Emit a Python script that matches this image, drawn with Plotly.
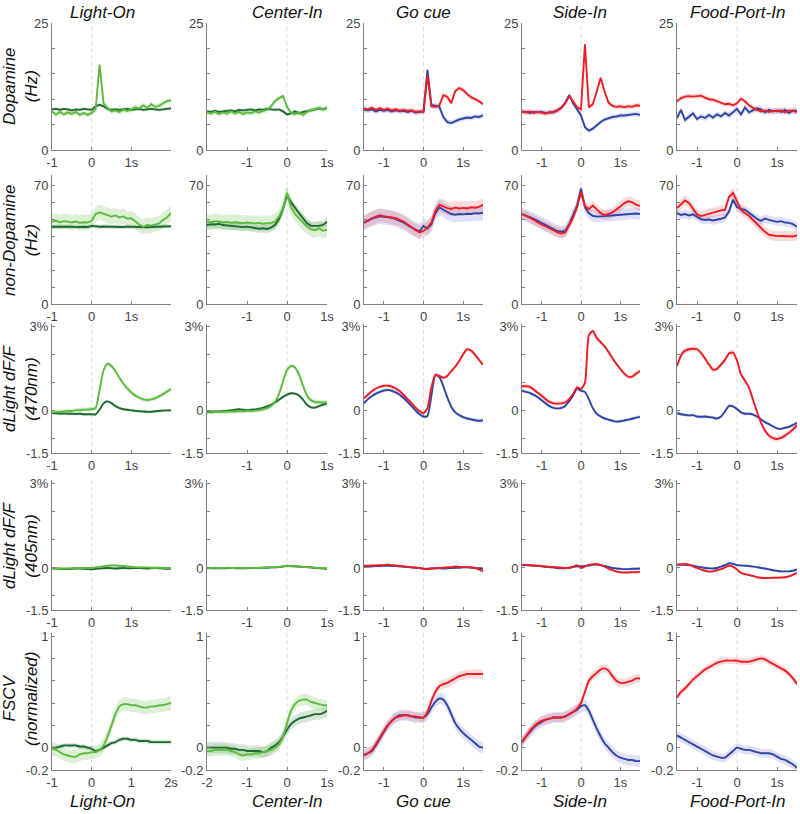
import plotly.graph_objects as go

# ---------------- time grids (s) ----------------
T_LIGHT = [-1.0,-0.9,-0.8,-0.7,-0.6,-0.5,-0.4,-0.3,-0.2,-0.1,0.0,0.1,0.2,0.3,0.4,0.5,0.6,0.7,0.8,0.9,1.0,1.1,1.2,1.3,1.4,1.5,1.6,1.7,1.8,1.9,2.0]
T_CENTER = [-2.0,-1.9,-1.8,-1.7,-1.6,-1.5,-1.4,-1.3,-1.2,-1.1,-1.0,-0.9,-0.8,-0.7,-0.6,-0.5,-0.4,-0.3,-0.2,-0.1,0.0,0.1,0.2,0.3,0.4,0.5,0.6,0.7,0.8,0.9,1.0]
T_SYM = [-1.5,-1.4,-1.3,-1.2,-1.1,-1.0,-0.9,-0.8,-0.7,-0.6,-0.5,-0.4,-0.3,-0.2,-0.1,0.0,0.1,0.2,0.3,0.4,0.5,0.6,0.7,0.8,0.9,1.0,1.1,1.2,1.3,1.4,1.5]

EVENTS = ["Light-On", "Center-In", "Go cue", "Side-In", "Food-Port-In"]
ROW_LABELS = ["Dopamine<br>(Hz)", "non-Dopamine<br>(Hz)", "dLight dF/F<br>(470nm)",
              "dLight dF/F<br>(405nm)", "FSCV<br>(normalized)"]

# ---------------- Row 1: Dopamine firing (Hz) ----------------
da_lo_lg = [7.6,7.0,7.5,7.0,7.4,7.1,7.5,6.9,7.3,6.9,7.3,8.0,16.8,9.2,8.3,7.6,7.8,7.5,7.9,7.7,8.0,8.4,8.2,8.8,8.3,9.0,8.5,8.7,9.2,9.6,9.8]
da_lo_dg = [8.0,8.1,7.9,8.1,8.0,7.8,8.0,7.9,8.1,8.0,7.9,8.6,8.9,8.6,8.1,7.9,8.0,7.9,8.0,8.1,7.9,8.0,8.1,7.9,8.0,8.1,8.0,7.9,8.0,8.1,8.2]
da_ci_lg = [7.4,7.2,7.5,7.1,7.4,7.2,7.6,7.2,7.5,7.1,7.4,7.3,7.6,7.4,7.7,7.9,8.6,9.6,10.2,10.6,8.5,7.3,7.1,7.4,6.9,7.5,7.9,8.0,8.3,8.0,8.3]
da_ci_dg = [7.6,7.5,7.7,7.5,7.6,7.7,7.8,7.6,7.9,7.8,7.9,8.0,7.8,8.0,7.9,8.1,8.0,7.9,8.0,7.6,7.0,7.2,7.6,7.2,7.5,7.6,7.8,8.0,8.2,8.0,8.3]
da_go_red = [8.2,8.0,8.3,7.9,8.2,7.9,8.1,7.8,8.0,7.7,7.9,7.7,7.8,7.5,7.6,7.5,14.7,8.6,8.5,8.8,10.8,10.5,9.2,11.6,12.2,11.8,11.0,10.4,10.0,9.6,9.0]
da_go_blue = [7.9,7.8,8.0,7.6,7.9,7.7,7.9,7.6,7.8,7.6,7.7,7.5,7.7,7.4,7.5,7.6,15.8,8.8,8.7,8.5,6.5,5.5,5.3,5.7,6.0,6.2,6.4,6.3,6.6,6.5,6.8]
da_si_red = [7.6,7.4,7.6,7.3,7.5,7.4,7.2,7.5,7.4,7.8,8.3,9.2,10.6,9.6,8.4,8.0,20.8,8.4,9.0,11.5,14.2,11.5,9.3,8.7,8.5,8.6,8.4,8.6,8.5,8.8,8.7]
da_si_blue = [7.5,7.5,7.3,7.5,7.4,7.5,7.3,7.3,7.5,7.8,8.3,9.3,10.8,9.2,8.0,6.8,4.5,3.8,4.2,4.9,5.5,6.0,6.3,6.5,6.6,6.8,6.8,6.9,7.0,7.1,6.9]
da_fp_red = [9.6,10.2,10.5,10.6,10.5,10.6,10.7,10.3,10.0,9.9,9.6,9.3,9.0,9.1,8.8,9.2,10.1,9.6,8.8,8.3,7.9,7.6,7.8,7.5,7.7,7.6,7.8,7.4,7.8,7.7,7.5]
da_fp_blue = [6.3,7.9,5.9,6.6,7.2,6.1,6.6,6.3,6.9,6.4,7.0,6.6,7.3,6.8,7.5,8.1,7.0,8.4,7.4,7.8,8.2,8.0,7.4,7.9,7.6,7.8,7.5,7.9,7.3,7.8,7.7]

# ---------------- Row 2: non-Dopamine firing (Hz) ----------------
nd_lo_lg = [48.5,49.0,48.2,48.8,48.5,48.0,48.6,47.8,48.2,48.0,49.0,53.0,54.0,53.2,52.0,51.5,52.2,51.0,51.6,50.2,50.5,48.5,46.8,45.5,46.5,46.2,47.0,47.5,49.5,51.0,53.5]
nd_lo_dg = [45.5,45.6,45.4,45.7,45.5,45.6,45.3,45.6,45.5,45.4,46.0,45.8,45.5,45.7,45.6,45.4,45.6,45.5,45.4,45.6,45.5,45.3,45.2,45.0,45.2,45.4,45.5,45.6,45.5,45.7,45.8]
nd_ci_lg = [48.6,48.0,48.8,48.2,48.0,48.4,47.8,48.2,47.9,47.6,48.0,47.7,47.5,47.8,47.3,47.6,47.8,48.5,51.5,56.5,65.5,57.0,53.0,50.5,48.0,45.5,44.0,43.5,44.5,43.2,43.8]
nd_ci_dg = [46.5,47.0,46.8,47.2,46.5,46.3,45.8,46.0,45.5,45.3,45.6,45.0,44.8,44.3,44.6,44.2,45.0,46.5,50.0,56.0,64.0,60.0,56.5,53.5,50.5,47.5,46.0,45.8,46.0,46.6,48.4]
nd_go_red = [48.0,49.5,50.5,51.5,52.3,51.8,51.5,51.0,50.5,49.5,48.5,46.8,45.0,43.5,42.2,43.0,45.0,48.0,55.0,58.5,57.5,56.5,56.0,56.8,56.2,56.6,56.3,57.0,56.7,57.2,58.5]
nd_go_blue = [47.8,49.2,50.3,51.0,51.6,51.4,51.1,50.8,50.0,49.0,48.0,46.5,45.0,43.8,42.8,46.0,44.5,47.0,53.5,57.0,55.5,54.0,53.0,52.6,53.0,52.8,53.2,53.0,53.5,53.3,53.8]
nd_si_red = [53.0,52.0,50.8,49.5,48.0,46.8,45.8,44.5,43.2,42.2,41.5,42.2,46.5,51.0,57.0,66.0,57.5,56.0,58.0,55.5,53.5,52.5,53.0,54.0,55.5,57.5,59.5,60.5,60.0,58.5,57.8]
nd_si_blue = [53.0,52.3,51.2,50.2,49.0,47.8,46.6,45.5,44.2,43.0,42.6,43.2,47.0,52.5,58.0,68.0,57.0,53.5,52.0,51.5,51.5,51.8,52.0,52.2,52.5,52.8,53.0,53.2,53.5,53.3,53.0]
nd_fp_red = [56.5,59.0,61.0,59.5,56.0,52.8,51.8,52.5,53.5,54.0,54.8,55.2,55.5,63.0,65.5,60.0,55.5,53.5,52.0,49.5,47.0,45.0,42.5,40.8,40.2,40.0,40.1,40.0,40.3,39.8,40.5]
nd_fp_blue = [53.5,52.5,53.0,52.2,52.8,51.5,50.0,49.5,49.8,49.2,49.6,50.2,51.0,54.5,61.5,57.0,56.0,55.5,53.8,52.0,50.2,49.0,50.3,49.6,48.8,48.4,48.8,48.0,47.8,47.0,45.5]

# ---------------- Row 3: dLight dF/F 470nm (%) ----------------
d470_lo_lg = [-0.05,-0.04,-0.03,-0.02,0.0,0.0,0.02,0.03,0.04,0.05,0.06,0.1,0.75,1.45,1.68,1.6,1.42,1.18,0.97,0.8,0.66,0.55,0.47,0.41,0.39,0.41,0.45,0.52,0.6,0.69,0.78]
d470_lo_dg = [-0.08,-0.08,-0.1,-0.09,-0.1,-0.1,-0.11,-0.1,-0.12,-0.12,-0.12,-0.12,0.05,0.27,0.34,0.28,0.17,0.1,0.06,0.04,0.02,0.0,-0.01,-0.02,-0.03,-0.03,-0.01,0.0,0.01,0.02,0.02]
d470_ci_lg = [-0.05,-0.05,-0.04,-0.04,-0.03,-0.03,-0.02,-0.02,-0.01,-0.01,0.0,0.0,0.01,0.03,0.06,0.1,0.18,0.32,0.6,1.05,1.45,1.6,1.55,1.3,0.9,0.55,0.38,0.32,0.31,0.3,0.3]
d470_ci_dg = [-0.03,-0.03,-0.02,-0.02,-0.01,0.0,0.02,0.04,0.06,0.04,0.03,0.04,0.05,0.08,0.11,0.16,0.22,0.3,0.4,0.5,0.58,0.63,0.62,0.55,0.4,0.22,0.13,0.12,0.17,0.22,0.27]
d470_go_red = [0.45,0.58,0.7,0.8,0.86,0.9,0.9,0.87,0.8,0.7,0.57,0.42,0.27,0.12,0.0,-0.08,0.1,0.85,1.28,1.25,1.18,1.25,1.42,1.58,1.78,2.02,2.2,2.15,2.0,1.82,1.65]
d470_go_blue = [0.28,0.42,0.53,0.62,0.68,0.73,0.75,0.72,0.66,0.58,0.46,0.32,0.17,0.02,-0.12,-0.2,-0.18,0.55,1.28,1.22,0.88,0.48,0.15,-0.05,-0.15,-0.22,-0.27,-0.3,-0.33,-0.35,-0.33]
d470_si_red = [0.88,0.88,0.86,0.76,0.65,0.54,0.42,0.32,0.27,0.26,0.27,0.3,0.42,0.6,0.84,0.78,1.0,2.7,2.85,2.6,2.45,2.3,2.1,1.88,1.68,1.5,1.33,1.22,1.22,1.33,1.42]
d470_si_blue = [0.72,0.68,0.64,0.57,0.49,0.38,0.27,0.17,0.11,0.09,0.11,0.18,0.35,0.55,0.8,0.72,0.68,0.42,0.1,-0.1,-0.2,-0.27,-0.31,-0.35,-0.38,-0.37,-0.34,-0.31,-0.28,-0.24,-0.21]
d470_fp_red = [1.6,1.98,2.15,2.2,2.22,2.2,2.07,1.87,1.65,1.47,1.5,1.65,1.82,2.05,2.08,1.8,1.3,1.08,0.83,0.4,-0.03,-0.42,-0.7,-0.88,-0.97,-1.0,-0.96,-0.88,-0.78,-0.66,-0.5]
d470_fp_blue = [-0.08,-0.12,-0.14,-0.16,-0.15,-0.2,-0.21,-0.2,-0.22,-0.24,-0.27,-0.2,-0.02,0.18,0.16,0.07,-0.05,-0.1,-0.1,-0.13,-0.2,-0.3,-0.4,-0.47,-0.55,-0.62,-0.64,-0.6,-0.57,-0.5,-0.42]

# ---------------- Row 4: dLight dF/F 405nm (%) ----------------
d405_lo_lg = [-0.01,-0.01,-0.02,-0.02,-0.02,-0.01,-0.01,0.0,0.0,0.0,0.0,0.02,0.04,0.06,0.08,0.09,0.09,0.08,0.07,0.05,0.04,0.03,0.02,0.02,0.02,0.01,0.01,0.01,0.0,0.0,0.0]
d405_lo_dg = [-0.01,-0.02,-0.03,-0.04,-0.04,-0.03,-0.02,-0.02,-0.03,-0.04,-0.05,-0.03,-0.02,-0.01,0.0,-0.01,-0.02,-0.01,0.0,-0.01,-0.01,0.0,0.0,-0.01,-0.02,-0.01,0.0,-0.01,-0.02,-0.03,-0.02]
d405_ci_lg = [0.0,0.0,0.01,0.0,0.0,0.01,0.0,0.0,0.01,0.0,0.0,0.01,0.0,0.01,0.01,0.02,0.02,0.03,0.04,0.06,0.08,0.07,0.06,0.05,0.04,0.03,0.02,0.01,0.0,-0.01,-0.02]
d405_ci_dg = [-0.01,-0.01,-0.01,-0.01,-0.01,-0.01,0.0,-0.01,-0.01,-0.01,-0.01,0.0,0.0,0.0,0.01,0.01,0.02,0.02,0.03,0.05,0.07,0.06,0.06,0.05,0.04,0.03,0.02,0.0,-0.01,-0.02,-0.03]
d405_go_red = [0.08,0.08,0.09,0.09,0.1,0.1,0.12,0.1,0.09,0.07,0.05,0.04,0.02,0.01,0.0,-0.03,-0.04,-0.02,-0.01,0.0,0.01,0.02,0.03,0.05,0.04,0.03,0.03,0.02,0.0,-0.05,-0.12]
d405_go_blue = [0.04,0.05,0.06,0.07,0.07,0.08,0.08,0.07,0.07,0.06,0.05,0.04,0.02,0.01,0.0,-0.03,-0.03,-0.02,-0.01,-0.01,-0.02,-0.01,0.0,0.01,0.01,0.02,0.02,0.01,0.0,-0.01,-0.02]
d405_si_red = [0.12,0.11,0.1,0.09,0.08,0.07,0.05,0.04,0.03,0.02,0.01,0.0,0.0,0.04,0.1,0.0,0.06,0.11,0.13,0.14,0.1,0.05,-0.02,-0.08,-0.13,-0.15,-0.16,-0.16,-0.15,-0.15,-0.14]
d405_si_blue = [0.1,0.1,0.09,0.08,0.07,0.06,0.04,0.03,0.02,0.0,-0.01,-0.01,0.01,0.04,0.06,0.06,0.07,0.09,0.11,0.12,0.1,0.07,0.04,0.0,-0.02,-0.03,-0.04,-0.04,-0.03,-0.03,-0.02]
d405_fp_red = [0.12,0.13,0.14,0.12,0.06,0.0,-0.05,-0.1,-0.13,-0.12,-0.08,-0.04,0.02,0.08,0.05,-0.05,-0.18,-0.22,-0.25,-0.28,-0.33,-0.35,-0.36,-0.36,-0.35,-0.35,-0.34,-0.33,-0.3,-0.24,-0.18]
d405_fp_blue = [0.12,0.12,0.11,0.1,0.08,0.05,0.03,0.0,-0.01,-0.02,0.0,0.05,0.1,0.17,0.15,0.1,0.09,0.08,0.07,0.05,0.03,0.0,-0.02,-0.05,-0.08,-0.1,-0.12,-0.12,-0.12,-0.1,-0.05]

# ---------------- Row 5: FSCV (normalized) ----------------
fs_lo_lg = [-0.01,-0.02,-0.04,-0.06,-0.07,-0.08,-0.08,-0.06,-0.05,-0.05,-0.04,-0.04,-0.02,0.02,0.1,0.2,0.3,0.37,0.39,0.39,0.38,0.38,0.37,0.36,0.36,0.37,0.37,0.38,0.38,0.39,0.4]
fs_lo_dg = [0.0,0.0,0.01,0.02,0.02,0.02,0.02,0.01,0.01,0.0,-0.01,-0.03,-0.02,0.0,0.02,0.04,0.05,0.07,0.08,0.08,0.07,0.07,0.06,0.06,0.06,0.05,0.05,0.05,0.05,0.05,0.05]
fs_ci_lg = [-0.03,-0.03,-0.02,-0.02,-0.02,-0.02,-0.03,-0.04,-0.06,-0.07,-0.06,-0.06,-0.05,-0.05,-0.04,-0.03,-0.02,0.0,0.03,0.1,0.22,0.33,0.39,0.42,0.43,0.43,0.41,0.4,0.39,0.38,0.38]
fs_ci_dg = [0.0,0.0,0.0,0.0,0.0,0.0,-0.01,-0.01,-0.02,-0.02,-0.03,-0.03,-0.03,-0.03,-0.04,-0.03,0.0,0.02,0.05,0.1,0.16,0.21,0.24,0.26,0.27,0.28,0.29,0.3,0.3,0.31,0.33]
fs_go_red = [-0.06,-0.05,-0.02,0.03,0.09,0.15,0.2,0.24,0.27,0.28,0.29,0.29,0.28,0.28,0.27,0.27,0.32,0.42,0.5,0.55,0.57,0.58,0.6,0.62,0.64,0.65,0.66,0.66,0.66,0.66,0.66]
fs_go_blue = [-0.07,-0.05,-0.03,0.02,0.08,0.14,0.2,0.24,0.27,0.29,0.29,0.29,0.28,0.27,0.27,0.27,0.3,0.36,0.41,0.44,0.43,0.38,0.3,0.22,0.17,0.13,0.1,0.07,0.04,0.01,0.0]
fs_si_red = [0.05,0.1,0.15,0.19,0.22,0.24,0.25,0.26,0.27,0.27,0.27,0.28,0.3,0.32,0.35,0.4,0.5,0.6,0.64,0.67,0.7,0.71,0.69,0.64,0.6,0.58,0.58,0.59,0.6,0.62,0.62]
fs_si_blue = [0.05,0.1,0.14,0.18,0.21,0.23,0.25,0.26,0.27,0.27,0.27,0.28,0.3,0.32,0.34,0.37,0.38,0.33,0.25,0.17,0.1,0.04,0.0,-0.04,-0.07,-0.09,-0.1,-0.11,-0.11,-0.12,-0.12]
fs_fp_red = [0.45,0.5,0.53,0.57,0.61,0.64,0.67,0.7,0.72,0.74,0.76,0.77,0.78,0.78,0.78,0.78,0.77,0.77,0.77,0.78,0.79,0.8,0.79,0.77,0.75,0.73,0.71,0.69,0.66,0.62,0.57]
fs_fp_blue = [0.11,0.09,0.07,0.05,0.03,0.01,-0.01,-0.03,-0.05,-0.07,-0.08,-0.09,-0.09,-0.06,-0.03,0.0,-0.01,-0.02,-0.02,-0.03,-0.04,-0.05,-0.05,-0.05,-0.06,-0.08,-0.1,-0.11,-0.13,-0.15,-0.18]

# SEM (band half-width) per row, per column: [first series, second series]
SEM_DA = [[0.5, 0.3], [0.5, 0.3], [0.5, 0.5], [0.5, 0.5], [0.5, 0.6]]
SEM_ND = [[4.5, 1.2], [4.5, 2.5], [4.0, 4.5], [3.0, 3.5], [3.0, 2.5]]
SEM_470 = [[0.08, 0.05], [0.08, 0.05], [0.07, 0.07], [0.08, 0.06], [0.1, 0.06]]
SEM_405 = [[0.04, 0.03], [0.03, 0.03], [0.04, 0.04], [0.04, 0.04], [0.04, 0.04]]
SEM_FS = [[0.06, 0.02], [0.05, 0.05], [0.04, 0.05], [0.04, 0.05], [0.03, 0.04]]

# ---------------- tables built from the arrays ----------------
TIMES = [T_LIGHT, T_CENTER, T_SYM, T_SYM, T_SYM]
DATA = [
    [(da_lo_lg, da_lo_dg), (da_ci_lg, da_ci_dg), (da_go_red, da_go_blue), (da_si_red, da_si_blue), (da_fp_red, da_fp_blue)],
    [(nd_lo_lg, nd_lo_dg), (nd_ci_lg, nd_ci_dg), (nd_go_red, nd_go_blue), (nd_si_red, nd_si_blue), (nd_fp_red, nd_fp_blue)],
    [(d470_lo_lg, d470_lo_dg), (d470_ci_lg, d470_ci_dg), (d470_go_red, d470_go_blue), (d470_si_red, d470_si_blue), (d470_fp_red, d470_fp_blue)],
    [(d405_lo_lg, d405_lo_dg), (d405_ci_lg, d405_ci_dg), (d405_go_red, d405_go_blue), (d405_si_red, d405_si_blue), (d405_fp_red, d405_fp_blue)],
    [(fs_lo_lg, fs_lo_dg), (fs_ci_lg, fs_ci_dg), (fs_go_red, fs_go_blue), (fs_si_red, fs_si_blue), (fs_fp_red, fs_fp_blue)],
]
SEMS = [SEM_DA, SEM_ND, SEM_470, SEM_405, SEM_FS]

Y_RANGES = [[0, 25], [0, 76], [-1.5, 3.1], [-1.5, 3.14], [-0.2, 1.027]]
Y_TICKS = [
    ([0, 5, 10, 15, 20, 25], ["0", "", "", "", "", "25"]),
    ([0, 10, 20, 30, 40, 50, 60, 70], ["0", "", "", "", "", "", "", "70"]),
    ([-1.5, -1, 0, 1, 2, 3], ["-1.5", "", "0", "", "", "3%"]),
    ([-1.5, -1, 0, 1, 2, 3], ["-1.5", "", "0", "", "", "3%"]),
    ([-0.2, 0, 0.2, 0.4, 0.6, 0.8, 1.0], ["-0.2", "0", "", "", "", "", "1"]),
]
X_RANGES = [[-1, 2], [-2, 1], [-1.5, 1.5], [-1.5, 1.5], [-1.5, 1.5]]
X_TICKS_UPPER = ([-1, 0, 1], ["-1", "0", "1s"])
X_TICKS_BOTTOM = [
    ([-1, 0, 1, 2], ["-1", "0", "1", "2s"]),
    ([-2, -1, 0, 1], ["-2", "-1", "0", "1s"]),
    ([-1, 0, 1], ["-1", "0", "1s"]),
    ([-1, 0, 1], ["-1", "0", "1s"]),
    ([-1, 0, 1], ["-1", "0", "1s"]),
]

# ---------------- styling / geometry ----------------
W, H = 800, 814
COL_PX = [(52, 171), (207, 327), (364, 483), (522, 640), (677, 797)]
ROW_PX = [(23, 150), (175, 304), (324, 453), (480, 610), (633, 770)]
TITLE_X_PX = [102, 287, 423, 580, 737]
ROW_LABEL_Y_PX = [86, 240, 388, 545, 699]

LG, DG = "#5DBA3F", "#1C6A2F"
RED, BLUE = "#EE1C25", "#2E45A3"
BAND = {LG: "rgba(93,186,63,0.22)", DG: "rgba(28,106,47,0.18)",
        RED: "rgba(238,28,37,0.16)", BLUE: "rgba(80,80,210,0.18)"}
FONT = "Liberation Sans, Arial, Helvetica, sans-serif"
AXC = "#808080"

fig = go.Figure()
layout = {}
shapes = []

for r in range(5):
    for c in range(5):
        n = r * 5 + c + 1
        xa = "x" if n == 1 else f"x{n}"
        ya = "y" if n == 1 else f"y{n}"
        t = TIMES[c]
        s1, s2 = DATA[r][c]
        sem1, sem2 = SEMS[r][c]
        if c < 2:
            series = [(s2, DG, sem2), (s1, LG, sem1)]
        else:
            series = [(s2, BLUE, sem2), (s1, RED, sem1)]
        shape = "linear" if r < 2 else "spline"
        # bands
        for vals, col, sem in series:
            up = [v + sem for v in vals]
            lo = [v - sem for v in vals]
            fig.add_trace(go.Scatter(
                x=list(t) + list(t)[::-1], y=up + lo[::-1],
                fill="toself", fillcolor=BAND[col], line=dict(width=0, shape=shape, smoothing=0.6),
                mode="lines", hoverinfo="skip", showlegend=False, xaxis=xa, yaxis=ya))
        # lines
        for vals, col, sem in series:
            fig.add_trace(go.Scatter(
                x=t, y=vals, mode="lines",
                line=dict(color=col, width=1.9, shape=shape, smoothing=0.6),
                hoverinfo="skip", showlegend=False, xaxis=xa, yaxis=ya))

        x0, x1 = COL_PX[c]
        y0, y1 = ROW_PX[r]
        xt = X_TICKS_BOTTOM[c] if r == 4 else X_TICKS_UPPER
        layout["xaxis" if n == 1 else f"xaxis{n}"] = dict(
            domain=[x0 / W, x1 / W], range=X_RANGES[c], anchor=ya, automargin=False,
            showline=True, linecolor=AXC, linewidth=1, ticks="inside", ticklen=3,
            tickcolor=AXC, tickvals=xt[0], ticktext=xt[1], showgrid=False, zeroline=False,
            tickfont=dict(size=13, color="#444", family=FONT), fixedrange=True)
        layout["yaxis" if n == 1 else f"yaxis{n}"] = dict(
            domain=[1 - y1 / H, 1 - y0 / H], range=Y_RANGES[r], anchor=xa, automargin=False,
            showline=True, linecolor=AXC, linewidth=1, ticks="inside", ticklen=3,
            tickcolor=AXC, tickvals=Y_TICKS[r][0], ticktext=Y_TICKS[r][1],
            showgrid=False, zeroline=False,
            tickfont=dict(size=13, color="#444", family=FONT), fixedrange=True)
        shapes.append(dict(type="line", xref=xa, yref=f"{ya} domain", x0=0, x1=0, y0=0, y1=1,
                           line=dict(color="#dedede", width=1, dash="4px,3px"), layer="below"))

annotations = []
for c in range(5):
    for ypx in (12, 801):
        annotations.append(dict(text=f"<i>{EVENTS[c]}</i>", x=TITLE_X_PX[c] / W, y=1 - ypx / H,
                                xref="paper", yref="paper", showarrow=False,
                                xanchor="center", yanchor="middle",
                                font=dict(size=17, color="#111", family=FONT)))
for r in range(5):
    annotations.append(dict(text=f"<i>{ROW_LABELS[r]}</i>", x=20 / W, y=1 - ROW_LABEL_Y_PX[r] / H,
                            xref="paper", yref="paper", showarrow=False, textangle=-90,
                            xanchor="center", yanchor="middle",
                            font=dict(size=17, color="#111", family=FONT)))

fig.update_layout(width=W, height=H, margin=dict(l=0, r=0, t=0, b=0, pad=0, autoexpand=False),
                  paper_bgcolor="white", plot_bgcolor="white", hovermode=False,
                  shapes=shapes, annotations=annotations, font=dict(family=FONT),
                  **layout)
fig.write_html("out.html", config={"displayModeBar": False, "staticPlot": True},
               post_script="document.body.style.margin='0px';")
